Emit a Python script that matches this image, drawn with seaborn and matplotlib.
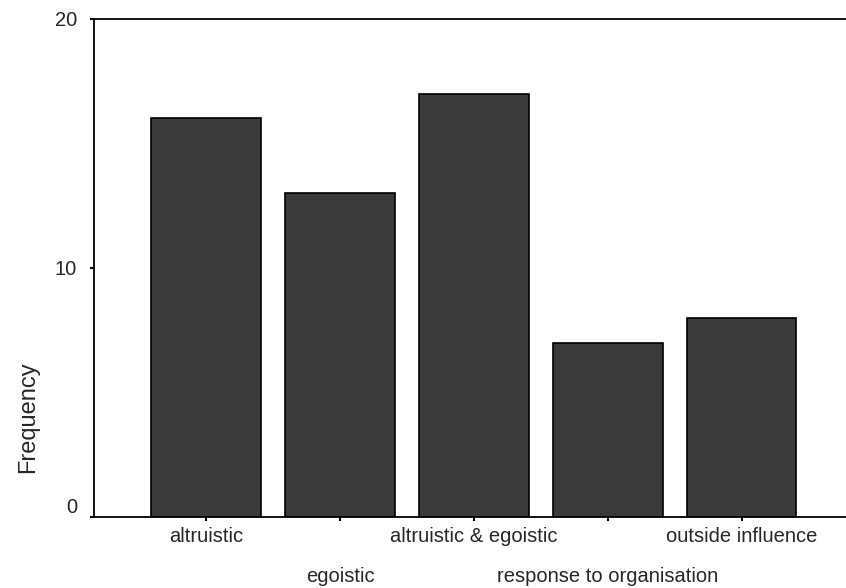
import matplotlib
matplotlib.use('Agg')
import matplotlib.pyplot as plt
import seaborn as sns

categories = ['altruistic', 'egoistic', 'altruistic & egoistic',
              'response to organisation', 'outside influence']
frequency = [16, 13, 17, 7, 8]
y_ticks = [0, 10, 20]

sns.set_style('white')
plt.rcParams['font.family'] = ['Liberation Sans', 'DejaVu Sans']

fig = plt.figure(figsize=(8.46, 5.88), dpi=100)
ax = fig.add_axes([0.111, 0.121, 0.889, 0.847])

sns.barplot(x=categories, y=frequency, color='#3a3a3a', saturation=1,
            width=0.82, edgecolor='black', linewidth=1.2, ax=ax)

ax.set_xlim(-0.84, 4.78)
ax.set_ylim(0, 20)
ax.set_yticks(y_ticks)
ax.set_ylabel('Frequency', fontsize=17)
ax.yaxis.set_label_coords(-0.073, 0.2)
ax.set_xlabel('')

for side in ['top', 'left', 'bottom']:
    ax.spines[side].set_visible(True)
    ax.spines[side].set_color('black')
    ax.spines[side].set_linewidth(1.3)
ax.spines['right'].set_visible(False)

ax.tick_params(axis='both', which='major', direction='out', length=3,
               width=1.5, color='black', left=True, bottom=True)
ax.tick_params(axis='x', labelsize=14.5)
# alternate x labels on two rows
for i, tick in enumerate(ax.xaxis.get_major_ticks()):
    tick.set_pad(4 if i % 2 == 0 else 33)
ax.tick_params(axis='y', pad=9, labelsize=14.5)
ax.get_yticklabels()[0].set_va('bottom')

fig.savefig('out.png', dpi=100)
